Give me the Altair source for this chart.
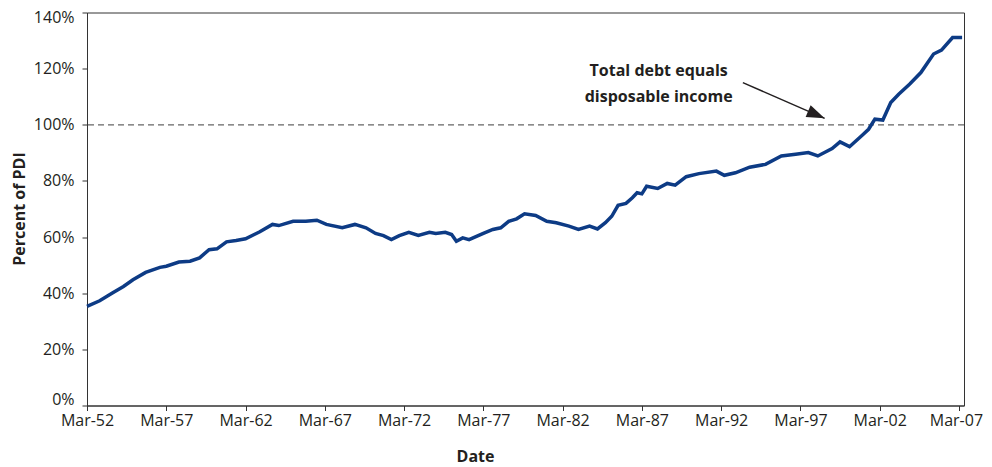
import altair as alt
import pandas as pd

# Household debt as percent of personal disposable income
years = [1952.0, 1952.8, 1953.6, 1954.3, 1954.9, 1955.7, 1956.6, 1957.0, 1957.8, 1958.5,
         1959.1, 1959.7, 1960.2, 1960.8, 1961.4, 1962.0, 1962.9, 1963.7, 1964.1, 1965.0,
         1965.8, 1966.5, 1967.1, 1968.1, 1968.9, 1969.6, 1970.2, 1970.7, 1971.2, 1971.7,
         1972.3, 1972.9, 1973.6, 1974.0, 1974.6, 1975.0, 1975.3, 1975.7, 1976.1, 1977.0,
         1977.6, 1978.1, 1978.6, 1979.1, 1979.6, 1980.3, 1981.0, 1981.6, 1982.4, 1983.0,
         1983.7, 1984.2, 1984.7, 1985.1, 1985.5, 1986.0, 1986.4, 1986.7, 1987.0, 1987.3,
         1988.0, 1988.6, 1989.1, 1989.8, 1990.6, 1991.7, 1992.2, 1992.9, 1993.8, 1994.8,
         1995.8, 1996.7, 1997.5, 1998.1, 1999.0, 1999.5, 2000.1, 2000.9, 2001.3, 2001.7,
         2002.2, 2002.7, 2003.2, 2003.9, 2004.6, 2005.4, 2005.9, 2006.6, 2007.2]
percent = [35.3, 37.3, 40.1, 42.4, 44.8, 47.4, 49.2, 49.6, 51.1, 51.4,
           52.6, 55.5, 55.8, 58.3, 58.8, 59.4, 61.9, 64.5, 64.1, 65.6,
           65.6, 66.0, 64.5, 63.3, 64.5, 63.3, 61.3, 60.5, 59.1, 60.5,
           61.7, 60.6, 61.7, 61.3, 61.7, 60.9, 58.5, 59.7, 59.1, 61.3,
           62.7, 63.3, 65.6, 66.5, 68.3, 67.7, 65.6, 65.1, 63.9, 62.7,
           63.9, 62.9, 65.1, 67.4, 71.3, 72.0, 74.0, 75.8, 75.4, 78.1,
           77.3, 79.1, 78.5, 81.5, 82.6, 83.5, 82.0, 82.9, 84.9, 85.9,
           88.9, 89.5, 90.1, 88.9, 91.5, 93.9, 92.2, 96.3, 98.4, 102.0,
           101.7, 107.9, 110.9, 114.5, 118.6, 125.2, 126.6, 131.1, 131.1]

x_ticks = [1952, 1957, 1962, 1967, 1972, 1977, 1982, 1987, 1992, 1997, 2002, 2007]
y_ticks = [0, 20, 40, 60, 80, 100, 120, 140]
x_domain = [1952, 2007.32]
y_domain = [0, 140]
reference_level = [100]

note_lines = ["Total debt equals", "disposable income"]
note_x = [1988.06, 1988.06]
note_y = [119.3, 110.0]
arrow_start = [1993.37, 115.0]
arrow_end = [1998.53, 102.3]

FONT = "Open Sans"
TEXT = "#231f20"
LINE = "#0d3b85"

df = pd.DataFrame({"year": years, "pct": percent})
notes = pd.DataFrame({"x": note_x, "y": note_y, "t": note_lines})
arrow = pd.DataFrame({"x": [arrow_start[0]], "y": [arrow_start[1]],
                      "x2": [arrow_end[0]], "y2": [arrow_end[1]]})
head = pd.DataFrame({"x": [arrow_end[0]], "y": [arrow_end[1]]})
ref = pd.DataFrame({"v": reference_level})

xscale = alt.Scale(domain=x_domain, nice=False, zero=False)
yscale = alt.Scale(domain=y_domain, nice=False)

x_axis = alt.Axis(
    values=x_ticks,
    labelExpr="'Mar-' + substring(toString(datum.value), 2)",
    labelOffset={"condition": {"test": "datum.value == 2007", "value": -3}, "value": 0},
    title="Date", grid=False, tickSize=5, labelPadding=2,
    labelFont=FONT, labelFontSize=16, labelColor=TEXT,
    titleFont=FONT, titleFontSize=16, titleFontWeight="bold", titleColor=TEXT,
    titleX=388, titleY=50.5, titleAlign="center", titleBaseline="middle",
    domainColor="#333", tickColor="#333", labelFlush=False, labelOverlap=False,
)
y_axis = alt.Axis(
    values=y_ticks, labelExpr="datum.value + '%'",
    title="Percent of PDI", grid=False, tickSize=5, labelPadding=8,
    labelOffset={"condition": [{"test": "datum.value == 0", "value": -6},
                               {"test": "datum.value == 140", "value": 5}],
                 "value": 0},
    labelFont=FONT, labelFontSize=16, labelColor=TEXT,
    titleFont=FONT, titleFontSize=16, titleFontWeight="bold", titleColor=TEXT,
    titleX=-68, titleY=196, titleAngle=270, titleAlign="center", titleBaseline="middle",
    domainColor="#333", tickColor="#333",
)

rule100 = alt.Chart(ref).mark_rule(color="#666", strokeDash=[6, 4], strokeWidth=1.3).encode(
    y=alt.Y("v:Q", scale=yscale, axis=y_axis)
)

line = alt.Chart(df).mark_line(color=LINE, strokeWidth=3.5).encode(
    x=alt.X("year:Q", scale=xscale, axis=x_axis),
    y=alt.Y("pct:Q", scale=yscale, axis=y_axis),
)

text = alt.Chart(notes).mark_text(
    font=FONT, fontSize=16, fontWeight="bold", color=TEXT, align="center", baseline="middle"
).encode(x=alt.X("x:Q", scale=xscale), y=alt.Y("y:Q", scale=yscale), text="t:N")

arrow_line = alt.Chart(arrow).mark_rule(color=TEXT, strokeWidth=1.5).encode(
    x=alt.X("x:Q", scale=xscale), y=alt.Y("y:Q", scale=yscale), x2="x2:Q", y2="y2:Q"
)

arrow_head = alt.Chart(head).mark_point(
    shape="M0,0 L-0.35,1 L0.35,1 Z", filled=True, size=1296, angle=113.5,
    color=TEXT, opacity=1, strokeWidth=0,
).encode(x=alt.X("x:Q", scale=xscale), y=alt.Y("y:Q", scale=yscale))

chart = alt.layer(rule100, line, text, arrow_line, arrow_head).properties(
    width=877, height=393,
    autosize=alt.AutoSizeParams(type="none"),
    padding={"left": 79, "top": 4.5, "right": 20, "bottom": 60},
    background="white",
).configure_view(stroke="#333", strokeWidth=1)

chart.save("out.html", embed_options={"renderer": "svg", "actions": False})
